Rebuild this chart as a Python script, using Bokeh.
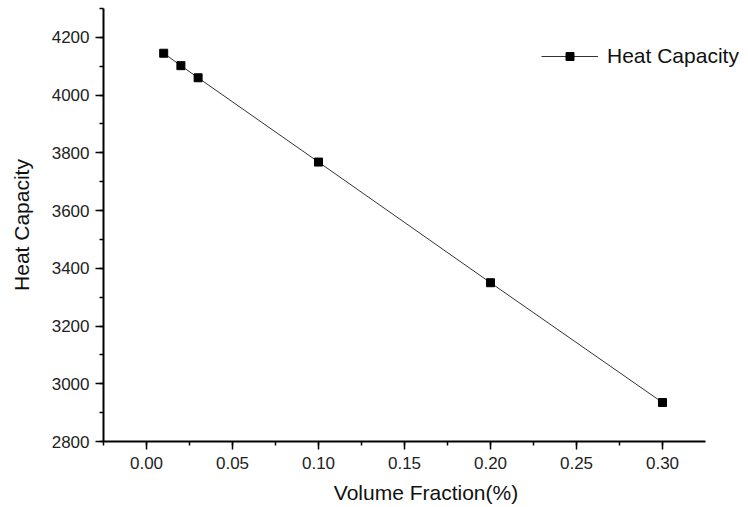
from bokeh.plotting import figure
from bokeh.models import (ColumnDataSource, SingleIntervalTicker, NumeralTickFormatter,
                          Range1d, Legend, LegendItem)
from bokeh.embed import file_html
from bokeh.resources import INLINE

volume_fraction = [0.01, 0.02, 0.03, 0.10, 0.20, 0.30]
heat_capacity = [4145, 4102, 4060, 3768, 3350, 2935]
series_name = "Heat Capacity"

src = ColumnDataSource(dict(x=volume_fraction, y=heat_capacity))

FONT = "Liberation Sans"

p = figure(width=748, height=507, output_backend="svg", toolbar_location=None,
           x_range=Range1d(-0.025, 0.350), y_range=Range1d(2800, 4300),
           min_border_left=103, min_border_right=0, min_border_top=8, min_border_bottom=66)
p.outline_line_color = None
p.xgrid.visible = False
p.ygrid.visible = False
p.background_fill_color = "white"

ln = p.line("x", "y", source=src, line_color="#333333", line_width=1)
sc = p.scatter("x", "y", source=src, marker="square", size=8, fill_color="black", line_color="black")

for ax in (p.xaxis[0], p.yaxis[0]):
    ax.axis_line_width = 2
    ax.axis_line_color = "black"
    ax.major_tick_line_width = 1.5
    ax.minor_tick_line_width = 1.5
    ax.major_tick_line_color = "black"
    ax.minor_tick_line_color = "black"
    ax.major_tick_out = 8
    ax.major_tick_in = 0
    ax.minor_tick_out = 4
    ax.minor_tick_in = 0
    ax.major_label_text_font = FONT
    ax.major_label_text_font_size = "17px"
    ax.major_label_text_color = "#222222"
    ax.axis_label_text_font = FONT
    ax.axis_label_text_font_size = "21px"
    ax.axis_label_text_font_style = "normal"
    ax.axis_label_text_color = "#111111"

p.xaxis.bounds = (-0.025, 0.325)
p.xaxis.ticker = SingleIntervalTicker(interval=0.05, num_minor_ticks=2)
p.xaxis.formatter = NumeralTickFormatter(format="0.00")
p.yaxis.ticker = SingleIntervalTicker(interval=200, num_minor_ticks=2)
p.xaxis.axis_label = "Volume Fraction(%)"
p.yaxis.axis_label = "Heat Capacity"
p.xaxis.major_label_standoff = 7
p.yaxis.major_label_standoff = 6
p.xaxis.axis_label_standoff = 9
p.yaxis.axis_label_standoff = 16

legend = Legend(items=[LegendItem(label=series_name, renderers=[ln, sc])],
                location=(438, 373), border_line_color=None, background_fill_alpha=0,
                padding=0, margin=0, glyph_width=57, glyph_height=20, label_height=20,
                label_standoff=9, label_text_font=FONT, label_text_font_size="21px",
                label_text_color="#111111")
p.add_layout(legend)

open("out.html", "w").write(file_html(p, INLINE))
